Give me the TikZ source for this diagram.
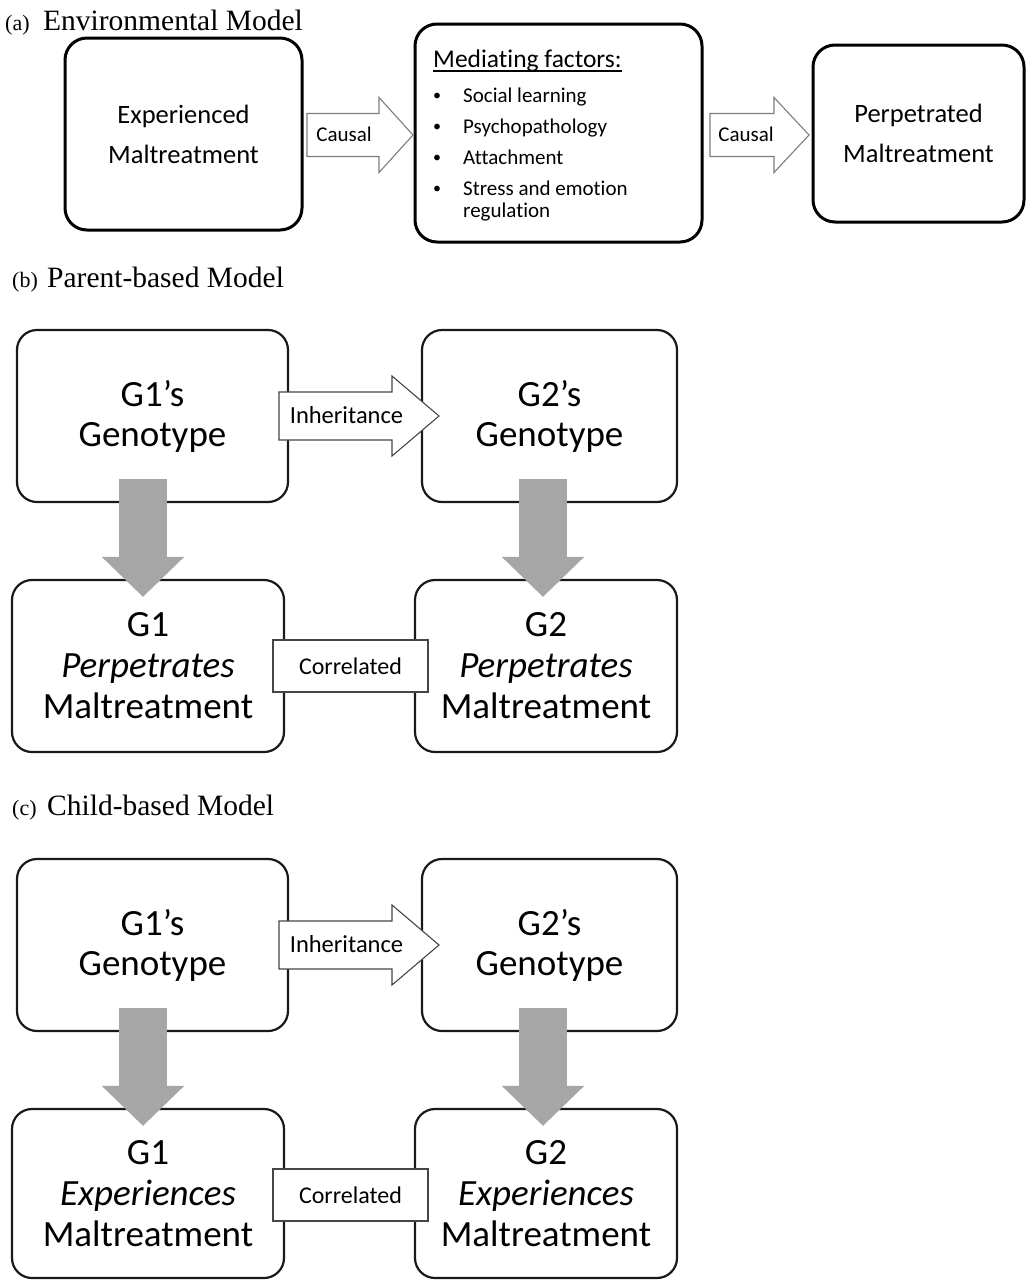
\documentclass[tikz,border=0pt]{standalone}
\usepackage{fontspec}
\setmainfont{Liberation Serif}
\newfontfamily\calfont[Ligatures=NoCommon]{Carlito}
\usetikzlibrary{arrows.meta,calc}
\definecolor{arrgray}{RGB}{166,166,166}
\definecolor{lightedge}{RGB}{125,125,125}
\definecolor{darkedge}{RGB}{70,70,70}
\begin{document}
\begin{tikzpicture}[x=1pt,y=-1pt,
  ttlsmall/.style={anchor=base west, inner sep=0, font=\fontsize{22}{22}\selectfont},
  ttlbig/.style={anchor=base west, inner sep=0, font=\fontsize{29.5}{31}\selectfont},
  abox/.style={draw=black, line width=3pt, rounded corners=22pt, fill=white, inner sep=0,
    align=center, font=\calfont\fontsize{26.5}{40}\selectfont},
  gboxtop/.style={draw=black!90, line width=2.2pt, rounded corners=20pt, fill=white, inner sep=0,
    align=center, font=\calfont\fontsize{37}{40}\selectfont},
  gboxbot/.style={draw=black!90, line width=2.2pt, rounded corners=20pt, fill=white, inner sep=0,
    align=center, font=\calfont\fontsize{37}{41}\selectfont},
  causalarr/.style={draw=lightedge, line width=1.1pt, fill=white, line join=miter},
  inharr/.style={draw=darkedge, line width=1.1pt, fill=white, line join=miter},
  arrlbl/.style={inner sep=0, font=\calfont\fontsize{21}{22}\selectfont},
  inhlbl/.style={anchor=base, inner sep=0, font=\calfont\fontsize{24.5}{26}\selectfont},
  corrbox/.style={draw=darkedge, line width=1.2pt, fill=white, inner sep=0,
    minimum width=155pt, minimum height=52pt, font=\calfont\fontsize{24}{26}\selectfont},
  medhead/.style={anchor=base west, inner sep=0, font=\calfont\fontsize{25.5}{28}\selectfont},
  meditem/.style={anchor=base west, inner sep=0, font=\calfont\fontsize{21}{23}\selectfont},
  medbullet/.style={anchor=base, inner sep=0, font=\calfont\fontsize{16}{18}\selectfont},
  grayarr/.style={draw=arrgray, line width=48pt, -{Triangle[length=40pt,width=80pt]}}
]
\useasboundingbox (0,0) rectangle (1028,1280);
\fill[white] (0,0) rectangle (1028,1280);

% ---------------- (a) Environmental Model ----------------
\node[ttlsmall] (ta1) at (5,30) {(a)};
\node[ttlbig] (ta2) at (43,30) {Environmental Model};

\node[abox, minimum width=237pt, minimum height=192pt] (A1) at (183.5,134) {Experienced\\Maltreatment};
\node[abox, minimum width=287pt, minimum height=218pt] (A2) at (558.5,133) {};
\node[abox, minimum width=211pt, minimum height=177pt] (A3) at (918.5,133.5) {Perpetrated\\Maltreatment};

\node[medhead] (mh) at (433,67) {Mediating factors:};
\draw[line width=1.4pt] ($(mh.base west)+(0,4)$) -- ($(mh.base east)+(0,4)$);
\node[medbullet] (mb1) at (437,100) {\textbullet};
\node[meditem] (mi1) at (463,102) {Social learning};
\node[medbullet] (mb2) at (437,131) {\textbullet};
\node[meditem] (mi2) at (463,133) {Psychopathology};
\node[medbullet] (mb3) at (437,162) {\textbullet};
\node[meditem] (mi3) at (463,164) {Attachment};
\node[medbullet] (mb4) at (437,193) {\textbullet};
\node[meditem] (mi4) at (463,195) {Stress and emotion};
\node[meditem] (mi5) at (463,217) {regulation};

\draw[causalarr] (307,113.5) -- (379,113.5) -- (379,97.5) -- (413,135) -- (379,172.5) -- (379,156.5) -- (307,156.5) -- cycle;
\node[arrlbl] (ca1) at (344,134) {Causal};
\draw[causalarr] (710,113.5) -- (774,113.5) -- (774,97.5) -- (809,135) -- (774,172.5) -- (774,156.5) -- (710,156.5) -- cycle;
\node[arrlbl] (ca2) at (746,134) {Causal};

% ---------------- (b) Parent-based Model ----------------
\node[ttlsmall] (tb1) at (12,287) {(b)};
\node[ttlbig] (tb2) at (47,287) {Parent-based Model};

\node[gboxtop, minimum width=271pt, minimum height=172pt] (pg1) at (152.5,416) {G1’s\\Genotype};
\node[gboxtop, minimum width=255pt, minimum height=172pt] (pg2) at (549.5,416) {G2’s\\Genotype};
\node[gboxbot, minimum width=272pt, minimum height=172pt] (pb1) at (148,666) {G1\\\textit{Perpetrates}\\Maltreatment};
\node[gboxbot, minimum width=262pt, minimum height=172pt] (pb2) at (546,666) {G2\\\textit{Perpetrates}\\Maltreatment};

\draw[inharr] (279,392) -- (392,392) -- (392,376) -- (439,416) -- (392,456) -- (392,440) -- (279,440) -- cycle;
\node[inhlbl] (pin) at (346.5,423) {Inheritance};

\draw[grayarr] ($(pg1.south)+(-9.5,-24)$) -- ($(pg1.south |- pb1.north)+(-9.5,18)$);
\draw[grayarr] ($(pg2.south)+(-6.5,-24)$) -- ($(pg2.south |- pb2.north)+(-6.5,18)$);

\node[corrbox] (pc) at (350.5,666) {Correlated};

% ---------------- (c) Child-based Model ----------------
\node[ttlsmall] (tc1) at (12,815) {(c)};
\node[ttlbig] (tc2) at (47,815) {Child-based Model};

\begin{scope}[shift={(0,529)}]
\node[gboxtop, minimum width=271pt, minimum height=172pt] (cg1) at (152.5,416) {G1’s\\Genotype};
\node[gboxtop, minimum width=255pt, minimum height=172pt] (cg2) at (549.5,416) {G2’s\\Genotype};
\node[gboxbot, minimum width=272pt, minimum height=169pt] (cb1) at (148,664.5) {G1\\\textit{Experiences}\\Maltreatment};
\node[gboxbot, minimum width=262pt, minimum height=169pt] (cb2) at (546,664.5) {G2\\\textit{Experiences}\\Maltreatment};

\draw[inharr] (279,392) -- (392,392) -- (392,376) -- (439,416) -- (392,456) -- (392,440) -- (279,440) -- cycle;
\node[inhlbl] (cin) at (346.5,423) {Inheritance};

\draw[grayarr] ($(cg1.south)+(-9.5,-24)$) -- ($(cg1.south |- cb1.north)+(-9.5,18)$);
\draw[grayarr] ($(cg2.south)+(-6.5,-24)$) -- ($(cg2.south |- cb2.north)+(-6.5,18)$);

\node[corrbox] (cc) at (350.5,666) {Correlated};
\end{scope}
\end{tikzpicture}
\end{document}
